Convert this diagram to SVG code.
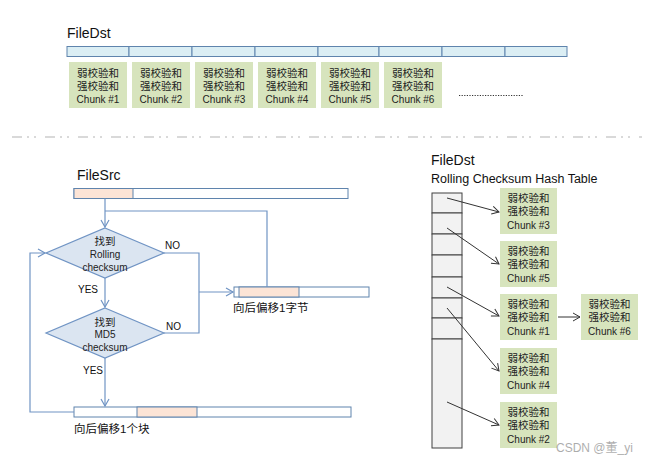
<svg xmlns="http://www.w3.org/2000/svg" width="650" height="463" viewBox="0 0 650 463">
<style>
.t{font-family:"Liberation Sans","Noto Sans CJK SC",sans-serif;fill:#111}
.cj{font-family:"Noto Sans CJK SC","Liberation Sans",sans-serif;font-size:10.5px;fill:#222;text-anchor:middle}
.ck{font-family:"Liberation Sans",sans-serif;font-size:10px;fill:#222}
.g{fill:#d7e4bd;stroke:none}
.tb{fill:#dbeef4;stroke:#5f84ad;stroke-width:1}
.wb{fill:#ffffff;stroke:#5f84ad;stroke-width:1}
.pk{fill:#fce4d6;stroke:#5f84ad;stroke-width:1}
.dm{fill:#dbe5f1;stroke:#7094c4;stroke-width:1.2}
.fl{fill:none;stroke:#7094c4;stroke-width:1.2}
.hl{fill:none;stroke:#333;stroke-width:1}
.hc{fill:#f2f2f2;stroke:#404040;stroke-width:1}
</style>
<defs>
<marker id="ab" markerWidth="10" markerHeight="10" refX="8" refY="5" orient="auto" markerUnits="userSpaceOnUse">
<path d="M1,1 L8,5 L1,9" fill="none" stroke="#7094c4" stroke-width="1.2"/>
</marker>
<marker id="ak" markerWidth="10" markerHeight="10" refX="8" refY="5" orient="auto" markerUnits="userSpaceOnUse">
<path d="M1,1 L8,5 L1,9" fill="none" stroke="#333" stroke-width="1"/>
</marker>
</defs>
<rect width="650" height="463" fill="#ffffff"/>

<!-- Top FileDst -->
<g id="top-filedst">
<text class="t" x="67" y="38" font-size="14">FileDst</text>
<rect class="tb" x="67" y="46.5" width="62" height="10"/>
<rect class="tb" x="129" y="46.5" width="63" height="10"/>
<rect class="tb" x="192" y="46.5" width="63" height="10"/>
<rect class="tb" x="255" y="46.5" width="63" height="10"/>
<rect class="tb" x="318" y="46.5" width="61" height="10"/>
<rect class="tb" x="379" y="46.5" width="63" height="10"/>
<rect class="tb" x="442" y="46.5" width="63" height="10"/>
<rect class="tb" x="505" y="46.5" width="62" height="10"/>
</g>
<g id="top-chunk1"><rect class="g" x="69" y="62" width="58" height="46"/><text class="cj" x="98" y="76.5">弱校验和<tspan x="98" dy="13">强校验和</tspan><tspan class="ck" x="98" dy="13.5">Chunk #1</tspan></text></g>
<g id="top-chunk2"><rect class="g" x="132" y="62" width="58" height="46"/><text class="cj" x="161" y="76.5">弱校验和<tspan x="161" dy="13">强校验和</tspan><tspan class="ck" x="161" dy="13.5">Chunk #2</tspan></text></g>
<g id="top-chunk3"><rect class="g" x="195" y="62" width="58" height="46"/><text class="cj" x="224" y="76.5">弱校验和<tspan x="224" dy="13">强校验和</tspan><tspan class="ck" x="224" dy="13.5">Chunk #3</tspan></text></g>
<g id="top-chunk4"><rect class="g" x="258" y="62" width="58" height="46"/><text class="cj" x="287" y="76.5">弱校验和<tspan x="287" dy="13">强校验和</tspan><tspan class="ck" x="287" dy="13.5">Chunk #4</tspan></text></g>
<g id="top-chunk5"><rect class="g" x="321" y="62" width="58" height="46"/><text class="cj" x="350" y="76.5">弱校验和<tspan x="350" dy="13">强校验和</tspan><tspan class="ck" x="350" dy="13.5">Chunk #5</tspan></text></g>
<g id="top-chunk6"><rect class="g" x="384" y="62" width="58" height="46"/><text class="cj" x="413" y="76.5">弱校验和<tspan x="413" dy="13">强校验和</tspan><tspan class="ck" x="413" dy="13.5">Chunk #6</tspan></text></g>
<g id="top-dots"><line x1="459" y1="95.5" x2="523" y2="95.5" stroke="#333" stroke-width="1.2" stroke-dasharray="1.2 1.4"/></g>

<!-- separator -->
<line x1="12" y1="137" x2="642" y2="137" stroke="#cdcdcd" stroke-width="1.5" stroke-dasharray="10 5 2 5 2 9"/>

<!-- FileSrc -->
<g id="filesrc">
<text class="t" x="77" y="180" font-size="14">FileSrc</text>
<rect class="wb" x="74" y="188.5" width="274" height="10"/>
<rect class="pk" x="74" y="188.5" width="59" height="10"/>
</g>
<g id="diamond1">
<polygon class="dm" points="105,228 164,253 105,278 46,253"/>
<text class="cj" x="105" y="245" font-size="12">找到<tspan class="ck" x="105" dy="13">Rolling</tspan><tspan class="ck" x="105" dy="13">checksum</tspan></text>
</g>
<g id="diamond2">
<polygon class="dm" points="105,308 164,333 105,358 46,333"/>
<text class="cj" x="105" y="326" font-size="12">找到<tspan class="ck" x="105" dy="12">MD5</tspan><tspan class="ck" x="105" dy="13">checksum</tspan></text>
</g>
<g id="shift-byte">
<rect class="wb" x="234" y="287" width="135" height="10"/>
<rect class="pk" x="239" y="287" width="60" height="10"/>
<text class="t" x="233" y="312" font-size="11.5">向后偏移1字节</text>
</g>
<g id="shift-block">
<rect class="wb" x="74" y="407" width="277" height="10"/>
<rect class="pk" x="137" y="407" width="60" height="10"/>
<text class="t" x="74" y="433" font-size="11.5">向后偏移1个块</text>
</g>

<!-- Right FileDst hash table -->
<g id="hash-title">
<text class="t" x="431" y="165" font-size="14">FileDst</text>
<text class="t" x="431" y="183" font-size="12.5">Rolling Checksum  Hash Table</text>
</g>
<g id="hash-table">
<rect class="hc" x="432" y="193" width="30" height="20"/>
<rect class="hc" x="432" y="213" width="30" height="21"/>
<rect class="hc" x="432" y="234" width="30" height="21"/>
<rect class="hc" x="432" y="255" width="30" height="22"/>
<rect class="hc" x="432" y="277" width="30" height="21"/>
<rect class="hc" x="432" y="298" width="30" height="20"/>
<rect class="hc" x="432" y="318" width="30" height="21"/>
<rect class="hc" x="432" y="339" width="30" height="109"/>
</g>
<g id="r-chunk3"><rect class="g" x="500" y="188" width="57" height="46"/><text class="cj" x="528.5" y="202">弱校验和<tspan x="528.5" dy="13">强校验和</tspan><tspan class="ck" x="528.5" dy="14">Chunk #3</tspan></text></g>
<g id="r-chunk5"><rect class="g" x="500" y="241" width="57" height="46"/><text class="cj" x="528.5" y="255">弱校验和<tspan x="528.5" dy="13">强校验和</tspan><tspan class="ck" x="528.5" dy="14">Chunk #5</tspan></text></g>
<g id="r-chunk1"><rect class="g" x="500" y="294" width="57" height="46"/><text class="cj" x="528.5" y="308">弱校验和<tspan x="528.5" dy="13">强校验和</tspan><tspan class="ck" x="528.5" dy="14">Chunk #1</tspan></text></g>
<g id="r-chunk4"><rect class="g" x="500" y="348" width="57" height="46"/><text class="cj" x="528.5" y="362">弱校验和<tspan x="528.5" dy="13">强校验和</tspan><tspan class="ck" x="528.5" dy="14">Chunk #4</tspan></text></g>
<g id="r-chunk2"><rect class="g" x="500" y="402" width="57" height="46"/><text class="cj" x="528.5" y="416">弱校验和<tspan x="528.5" dy="13">强校验和</tspan><tspan class="ck" x="528.5" dy="14">Chunk #2</tspan></text></g>
<g id="r-chunk6"><rect class="g" x="581" y="294" width="57" height="46"/><text class="cj" x="609.5" y="308">弱校验和<tspan x="609.5" dy="13">强校验和</tspan><tspan class="ck" x="609.5" dy="14">Chunk #6</tspan></text></g>

<!-- connectors -->
<g id="connectors">
<path class="fl" d="M105,198.5 V227" marker-end="url(#ab)"/>
<path class="fl" d="M105,211 H267 V287"/>
<path class="fl" d="M164,253 H199 V333 H164"/>
<path class="fl" d="M199,292 H233" marker-end="url(#ab)"/>
<path class="fl" d="M105,278 V307" marker-end="url(#ab)"/>
<path class="fl" d="M105,358 V406" marker-end="url(#ab)"/>
<path class="fl" d="M74,412 H30 V253 H45" marker-end="url(#ab)"/>
<path class="hl" d="M447,198 L499,212" marker-end="url(#ak)"/>
<path class="hl" d="M447,228 L499,264" marker-end="url(#ak)"/>
<path class="hl" d="M447,287 L499,316" marker-end="url(#ak)"/>
<path class="hl" d="M447,308 L499,371" marker-end="url(#ak)"/>
<path class="hl" d="M447,402 L499,425" marker-end="url(#ak)"/>
<path class="hl" d="M558,317 L580,317" marker-end="url(#ak)"/>
</g>
<g id="labels">
<text class="t" x="165" y="249" font-size="10">NO</text>
<text class="t" x="166" y="330" font-size="10">NO</text>
<text class="t" x="78" y="293" font-size="10">YES</text>
<text class="t" x="83" y="374" font-size="10">YES</text>
</g>
<g id="watermark" opacity="0.35">
<text class="t" x="556" y="452" font-size="12" fill="#999">CSDN @董_yi</text>
</g>
</svg>
